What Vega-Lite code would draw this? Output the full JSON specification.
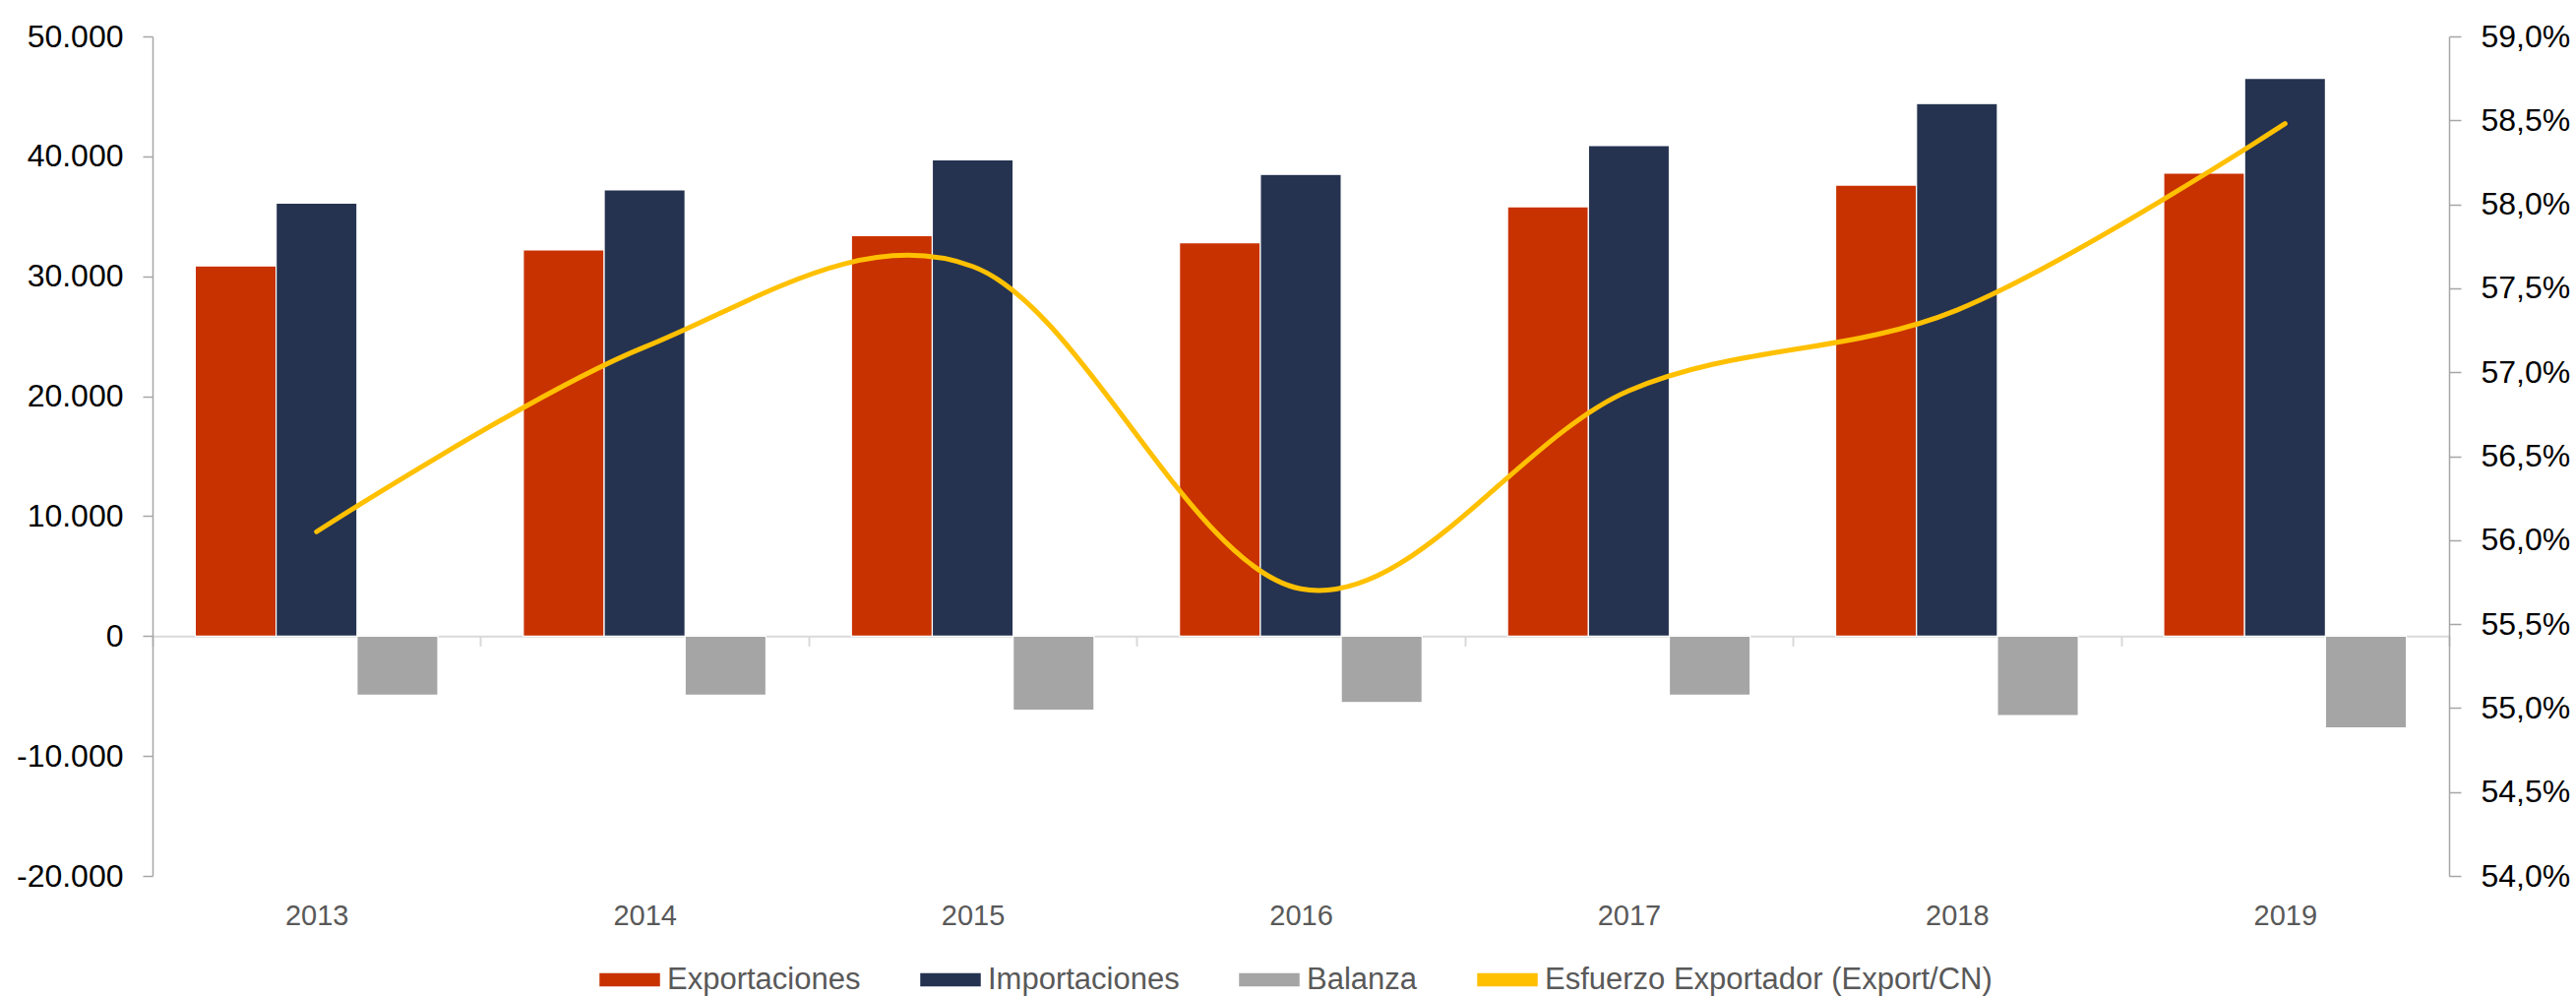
{
  "$schema": "https://vega.github.io/schema/vega-lite/v6.json",
  "width": 2334,
  "height": 853,
  "autosize": {"type": "none"},
  "padding": {"left": 155, "top": 37, "right": 129, "bottom": 123},
  "background": "#ffffff",
  "config": {
    "locale": {"number": {"decimal": ",", "thousands": ".", "grouping": [3], "currency": ["", " €"], "minus": "-"}},
    "font": "Liberation Sans",
    "view": {"stroke": null},
    "axis": {"grid": false, "title": null}
  },
  "datasets": {
    "bars": [
      {"year": "2013", "serie": "Exportaciones", "value": 30860},
      {"year": "2013", "serie": "Importaciones", "value": 36100},
      {"year": "2013", "serie": "Balanza", "value": -4930},
      {"year": "2014", "serie": "Exportaciones", "value": 32200},
      {"year": "2014", "serie": "Importaciones", "value": 37200},
      {"year": "2014", "serie": "Balanza", "value": -4930},
      {"year": "2015", "serie": "Exportaciones", "value": 33400},
      {"year": "2015", "serie": "Importaciones", "value": 39700},
      {"year": "2015", "serie": "Balanza", "value": -6190},
      {"year": "2016", "serie": "Exportaciones", "value": 32800},
      {"year": "2016", "serie": "Importaciones", "value": 38500},
      {"year": "2016", "serie": "Balanza", "value": -5540},
      {"year": "2017", "serie": "Exportaciones", "value": 35800},
      {"year": "2017", "serie": "Importaciones", "value": 40900},
      {"year": "2017", "serie": "Balanza", "value": -4930},
      {"year": "2018", "serie": "Exportaciones", "value": 37600},
      {"year": "2018", "serie": "Importaciones", "value": 44400},
      {"year": "2018", "serie": "Balanza", "value": -6630},
      {"year": "2019", "serie": "Exportaciones", "value": 38600},
      {"year": "2019", "serie": "Importaciones", "value": 46500},
      {"year": "2019", "serie": "Balanza", "value": -7650}
    ],
    "line": [
      {"year": "2013", "serie": "Esfuerzo Exportador (Export/CN)", "value": 0.5605},
      {"year": "2014", "serie": "Esfuerzo Exportador (Export/CN)", "value": 0.5715},
      {"year": "2015", "serie": "Esfuerzo Exportador (Export/CN)", "value": 0.5763},
      {"year": "2016", "serie": "Esfuerzo Exportador (Export/CN)", "value": 0.5571},
      {"year": "2017", "serie": "Esfuerzo Exportador (Export/CN)", "value": 0.5689},
      {"year": "2018", "serie": "Esfuerzo Exportador (Export/CN)", "value": 0.5737},
      {"year": "2019", "serie": "Esfuerzo Exportador (Export/CN)", "value": 0.5848}
    ]
  },
  "layer": [
    {
      "data": {"name": "bars"},
      "mark": {"type": "bar", "stroke": "#ffffff", "strokeWidth": 1.2},
      "encoding": {
        "x": {
          "field": "year", "type": "nominal",
          "scale": {"paddingInner": 0, "paddingOuter": 0},
          "axis": {
            "orient": "bottom", "offset": -243.7,
            "domainColor": "#D9D9D9", "domainWidth": 2,
            "tickColor": "#D9D9D9", "tickWidth": 2, "tickSize": 10, "tickBand": "extent",
            "labelFontSize": 29, "labelColor": "#595959", "labelPadding": 260, "labelAngle": 0,
            "title": null
          }
        },
        "xOffset": {
          "field": "serie", "type": "nominal",
          "scale": {"domain": ["Exportaciones", "Importaciones", "Balanza"], "paddingInner": 0, "paddingOuter": 0.528}
        },
        "y": {
          "field": "value", "type": "quantitative",
          "scale": {"domain": [-20000, 50000], "nice": false},
          "axis": {
            "orient": "left",
            "values": [-20000, -10000, 0, 10000, 20000, 30000, 40000, 50000],
            "format": ",.0f",
            "domainColor": "#A6A6A6", "domainWidth": 1.5,
            "tickColor": "#A6A6A6", "tickWidth": 1.5, "tickSize": 10,
            "labelFontSize": 32, "labelColor": "#000000", "labelPadding": 20,
            "title": null
          }
        },
        "color": {
          "field": "serie", "type": "nominal",
          "scale": {
            "domain": ["Exportaciones", "Importaciones", "Balanza", "Esfuerzo Exportador (Export/CN)"],
            "range": ["#C83200", "#253350", "#A5A5A5", "#FFC000"]
          },
          "legend": {
            "orient": "none", "legendX": 454, "legendY": 927.5,
            "direction": "horizontal", "title": null,
            "labelFontSize": 31, "labelColor": "#595959", "labelLimit": 0,
            "symbolType": "M-1,-0.2H1V0.2H-1Z", "symbolSize": 3600,
            "columnPadding": 58, "labelOffset": 7,
            "encode": {
              "symbols": {
                "update": {
                  "shape": {"signal": "datum.value === 'Esfuerzo Exportador (Export/CN)' ? 'M-1,-0.07H1V0.07H-1Z' : 'M-1,-0.2H1V0.2H-1Z'"},
                  "fill": {"scale": "color", "field": "value"},
                  "stroke": {"value": "transparent"},
                  "opacity": {"value": 1}
                }
              }
            }
          }
        }
      }
    },
    {
      "data": {"name": "line"},
      "mark": {"type": "line", "interpolate": "cardinal", "strokeWidth": 5, "strokeCap": "round"},
      "encoding": {
        "x": {"field": "year", "type": "nominal"},
        "y": {
          "field": "value", "type": "quantitative",
          "scale": {"domain": [0.54, 0.59], "nice": false, "zero": false},
          "axis": {
            "orient": "right",
            "values": [0.54, 0.545, 0.55, 0.555, 0.56, 0.565, 0.57, 0.575, 0.58, 0.585, 0.59],
            "format": ".1%",
            "domainColor": "#A6A6A6", "domainWidth": 1.5,
            "tickColor": "#A6A6A6", "tickWidth": 1.5, "tickSize": 12,
            "labelFontSize": 32, "labelColor": "#000000", "labelPadding": 20,
            "title": null
          }
        },
        "color": {"field": "serie", "type": "nominal"}
      }
    }
  ],
  "resolve": {"scale": {"y": "independent"}}
}
